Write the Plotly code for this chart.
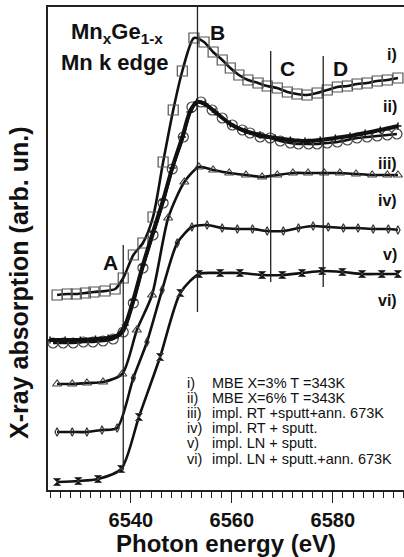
import plotly.graph_objects as go

# ---------------- data (energy in eV, absorption in arb. units) ----------------
E_i = [6525.4, 6527.4, 6529.2, 6531.0, 6532.7, 6534.9, 6536.9, 6538.5, 6540.5, 6542.4,
       6544.4, 6546.4, 6548.4, 6550.2, 6552.5, 6554.5, 6556.3, 6558.1, 6559.7, 6561.4,
       6563.2, 6565.2, 6567.0, 6569.0, 6571.0, 6572.9, 6574.9, 6576.9, 6578.9, 6580.9,
       6582.9, 6584.8, 6586.8, 6588.8, 6590.8, 6592.9]
A_i = [1.95, 1.96, 1.96, 1.97, 1.98, 1.99, 2.01, 2.12, 2.35, 2.47,
       2.73, 3.28, 3.80, 4.19, 4.52, 4.48, 4.38, 4.30, 4.22, 4.15,
       4.10, 4.07, 4.04, 4.02, 3.98, 3.96, 3.95, 3.97, 4.00, 4.03,
       4.04, 4.06, 4.07, 4.09, 4.10, 4.12]

E_ii = [6524.6, 6526.6, 6528.6, 6530.6, 6532.5, 6534.5, 6536.5, 6538.5, 6540.5, 6542.4,
        6544.4, 6546.4, 6548.2, 6550.4, 6552.1, 6553.9, 6556.1, 6558.1, 6560.1, 6562.1,
        6563.6, 6565.6, 6567.6, 6569.6, 6571.6, 6573.2, 6575.2, 6576.9, 6578.9, 6580.9,
        6582.9, 6584.8, 6586.8, 6588.8, 6590.8, 6592.7]
A_ii = [1.47, 1.47, 1.47, 1.48, 1.48, 1.49, 1.51, 1.58, 1.87, 2.22,
        2.55, 2.87, 3.21, 3.53, 3.83, 3.88, 3.80, 3.72, 3.65, 3.60,
        3.57, 3.53, 3.52, 3.49, 3.47, 3.46, 3.46, 3.46, 3.47, 3.48,
        3.50, 3.52, 3.53, 3.54, 3.55, 3.56]

E_iii = [6524.0, 6527.0, 6530.0, 6533.0, 6535.5, 6537.5, 6538.9, 6540.5, 6542.4, 6544.4,
         6546.4, 6548.2, 6550.2, 6551.7, 6553.1, 6554.7, 6556.7, 6559.7, 6562.6, 6565.6,
         6568.6, 6571.6, 6574.5, 6577.5, 6580.5, 6583.4, 6586.4, 6589.4, 6592.9]
A_iii = [1.50, 1.50, 1.50, 1.51, 1.52, 1.55, 1.65, 1.90, 2.25, 2.58,
         2.90, 3.22, 3.53, 3.78, 3.88, 3.86, 3.78, 3.66, 3.59, 3.55,
         3.52, 3.50, 3.49, 3.50, 3.52, 3.54, 3.57, 3.60, 3.64]

E_iv = [6525.4, 6528.4, 6531.3, 6534.5, 6538.3, 6541.2, 6544.2, 6547.4, 6550.6, 6553.5,
        6556.3, 6559.5, 6562.8, 6566.0, 6569.0, 6572.1, 6575.1, 6578.3, 6581.4, 6584.6,
        6587.8, 6590.8, 6592.9]
A_iv = [1.06, 1.06, 1.07, 1.08, 1.16, 1.60, 1.95, 2.72, 3.08, 3.23,
        3.20, 3.17, 3.15, 3.13, 3.15, 3.17, 3.17, 3.17, 3.17, 3.16,
        3.15, 3.15, 3.15]

E_v = [6525.4, 6528.4, 6531.3, 6534.3, 6537.3, 6540.5, 6543.2, 6546.2, 6549.2, 6552.1,
       6555.1, 6558.1, 6561.1, 6564.1, 6567.0, 6570.2, 6573.2, 6576.1, 6579.1, 6582.1,
       6585.0, 6588.0, 6591.0, 6592.9]
A_v = [0.58, 0.58, 0.58, 0.60, 0.62, 1.12, 1.48, 2.00, 2.47, 2.63,
       2.65, 2.62, 2.61, 2.61, 2.59, 2.59, 2.62, 2.64, 2.63, 2.62,
       2.62, 2.61, 2.61, 2.60]

E_vi = [6525.4, 6529.6, 6533.5, 6538.1, 6541.6, 6545.8, 6549.8, 6553.5, 6557.7, 6561.6,
        6566.0, 6570.0, 6573.9, 6577.9, 6581.9, 6585.8, 6589.7, 6592.9]
A_vi = [0.08, 0.09, 0.11, 0.21, 0.73, 1.33, 1.97, 2.16, 2.17, 2.17,
        2.15, 2.15, 2.17, 2.19, 2.18, 2.16, 2.16, 2.16]

feature_names = ["A", "B", "C", "D"]
feature_E = [6538.5, 6553.2, 6567.7, 6578.1]
feature_lo = [0.20, 1.78, 2.08, 2.03]
feature_hi = [2.45, 4.83, 4.39, 4.34]

curve_labels = ["i)", "ii)", "iii)", "iv)", "v)", "vi)"]
legend_text = ["MBE X=3% T =343K", "MBE X=6% T =343K", "impl. RT +sputt+ann. 673K",
               "impl. RT + sputt.", "impl. LN + sputt.", "impl. LN + sputt.+ann. 673K"]

# ---------------- layout geometry ----------------
W, H = 404, 557
ML, MR, MT, MB = 48, 0, 7, 67
PW, PH = W - ML - MR, H - MT - MB


def P(px, py):
    return (px - ML) / PW, (H - MB - py) / PH


FONT = "Liberation Sans, Arial, sans-serif"
fig = go.Figure()

series = [
    (E_i, A_i, dict(symbol="square-open", size=10, color="#555", line=dict(width=1.2)), 2.6),
    (E_ii, A_ii, dict(symbol="circle-open", size=10, color="#444", line=dict(width=1.2)), 2.6),
    (E_iii, A_iii, dict(symbol="cross-thin-open", size=5, color="#111", line=dict(width=1.5)), 4.0),
    (E_iv, A_iv, dict(symbol="triangle-up-open", size=8, color="#444", line=dict(width=1.2)), 2.6),
    (E_v, A_v, dict(symbol="diamond-tall-open", size=6, color="#333", line=dict(width=1.2)), 2.6),
    (E_vi, A_vi, dict(symbol="hourglass", size=7, color="#111", line=dict(width=1)), 2.6),
]
for xs, ys, mk, lw in series:
    fig.add_trace(go.Scatter(x=xs, y=ys, mode="lines+markers",
                             line=dict(color="#111", width=lw, shape="spline", smoothing=0.7),
                             marker=mk, showlegend=False, cliponaxis=False))

for e, lo, hi in zip(feature_E, feature_lo, feature_hi):
    fig.add_shape(type="line", xref="x", yref="y", x0=e, x1=e, y0=lo, y1=hi,
                  line=dict(color="#222", width=1.3))

ann = []


def add_text(px, py, text, size, bold=True, xanchor="center", **kw):
    x, y = P(px, py)
    f = dict(size=size, family=FONT, color="#111")
    if bold:
        f["weight"] = "bold"
    ann.append(dict(x=x, y=y, text=text, xanchor=xanchor, yanchor="middle",
                    font=f, xref="paper", yref="paper", showarrow=False, **kw))


# feature letters
for name, (px, py) in zip(feature_names, [(110, 262), (217, 32), (287, 68), (340, 68)]):
    add_text(px, py, name, 21)
# curve labels on the right
for lab, py in zip(curve_labels, [55, 107, 163, 200, 255, 300]):
    add_text(399, py, lab, 16, xanchor="right")
# legend text block
for lab, txt, py in zip(curve_labels, legend_text, [383, 398, 413, 428, 443, 459]):
    add_text(185, py, lab, 14.5, bold=False, xanchor="left")
    add_text(210, py, txt, 14.5, bold=False, xanchor="left")
# title
add_text(117, 33, "Mn<sub>x</sub>Ge<sub>1-x</sub>", 22)
add_text(115, 63, "Mn k edge", 22)
# axis titles
add_text(226, 543, "Photon energy (eV)", 24)
add_text(19, 283, "X-ray absorption (arb. un.)", 25, textangle=-90)

fig.update_layout(
    width=W, height=H,
    margin=dict(l=ML, r=MR, t=MT, b=MB),
    paper_bgcolor="white", plot_bgcolor="white",
    annotations=ann,
    xaxis=dict(range=[6523.6, 6594.1], showgrid=False, zeroline=False,
               showline=True, linecolor="#222", linewidth=1.5, mirror=True,
               ticks="outside", tickcolor="#222", ticklen=11, tickwidth=1.3,
               tick0=6540, dtick=20,
               tickfont=dict(size=20, family=FONT, color="#111", weight="bold"),
               minor=dict(ticks="outside", dtick=2, tick0=6540, ticklen=6,
                          tickwidth=1.1, tickcolor="#222", showgrid=False)),
    yaxis=dict(range=[0, 4.83], showgrid=False, zeroline=False,
               showline=True, linecolor="#222", linewidth=1.5,
               showticklabels=False, ticks=""),
)

fig.write_html("out.html")
